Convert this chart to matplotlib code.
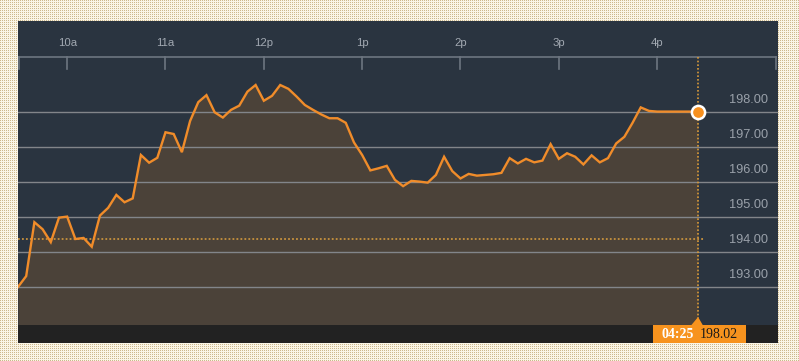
import numpy as np
import matplotlib
matplotlib.use("Agg")
import matplotlib.pyplot as plt
from matplotlib.patches import Rectangle, Polygon

# price every 5 minutes starting 9:30
prices = [193.01, 193.32, 194.86, 194.66, 194.29, 194.99, 195.02, 194.38, 194.41, 194.16,
          195.05, 195.27, 195.64, 195.43, 195.54, 196.78, 196.56, 196.70, 197.43, 197.38,
          196.86, 197.75, 198.29, 198.49, 198.00, 197.85, 198.07, 198.19, 198.59, 198.78,
          198.33, 198.47, 198.78, 198.67, 198.45, 198.21, 198.07, 197.94, 197.83, 197.83,
          197.70, 197.14, 196.78, 196.34, 196.40, 196.47, 196.07, 195.89, 196.04, 196.02,
          195.99, 196.21, 196.73, 196.32, 196.11, 196.24, 196.19, 196.21, 196.23, 196.27,
          196.69, 196.54, 196.67, 196.57, 196.62, 197.09, 196.67, 196.83, 196.73, 196.51,
          196.77, 196.57, 196.69, 197.11, 197.30, 197.70, 198.14, 198.04, 198.02, 198.02,
          198.02, 198.02, 198.02, 198.02]
hour_ticks = [30, 90, 150, 210, 270, 330, 390]   # minutes after 9:30
hour_labels = ["10a", "11a", "12p", "1p", "2p", "3p", "4p"]
y_ticks = [193, 194, 195, 196, 197, 198]
prev_close = 194.38
last_price = 198.02
last_time = "04:25"

W, H = 799, 361
fig = plt.figure(figsize=(W / 100, H / 100), dpi=100)

# dotted paper background
bg = np.ones((H, W, 3))
bg[:, :] = np.array([250, 245, 230]) / 255
bg[::2, ::2] = np.array([205, 184, 140]) / 255
fig.figimage(bg, 0, 0, zorder=-5)

# panel pixels
px0, px1, py0, py1 = 18, 778, 21, 343
ax = fig.add_axes([px0 / W, (H - py1) / H, (px1 - px0) / W, (py1 - py0) / H])
ax.set_zorder(2)
ax.set_facecolor("#2a3440")
for s in ax.spines.values():
    s.set_visible(False)
ax.set_xticks([])
ax.set_yticks([])

# pixel <-> data scales
ppm = 98.33 / 60          # px per minute
ppu = 35.0                # px per price unit
y198 = 112.3
def vy(p):                # pixel row -> price
    return 198 - (p - y198) / ppu
def vx(p):                # pixel col -> minutes
    return (p - px0) / ppm

ax.set_xlim(0, vx(px1))
ax.set_ylim(vy(py1), vy(py0))

t = np.arange(len(prices)) * 5
base = vy(325)
ax.fill_between(t, prices, base, color="#4b4239", zorder=1, lw=0)

for yv in y_ticks:
    ax.axhline(yv, color="#82858a", lw=1.0, zorder=2)
    ax.text(vx(768), yv + 12 / ppu, f"{yv:.2f}", ha="right", va="center",
            color="#9aa1aa", fontsize=9.2, family="Liberation Sans", zorder=5)

ax.plot(t, prices, color="#f08c2a", lw=1.7, zorder=4, solid_joinstyle="miter")

# previous close
ax.plot([0, vx(705)], [prev_close, prev_close], color="#c8923e", lw=1.3,
        ls=(0, (1, 1.2)), zorder=3)

# bottom strip
ax.axhspan(vy(py1), base, color="#222222", zorder=3, lw=0)

# top time axis
ytop = vy(57)
ax.plot([0, vx(776)], [ytop, ytop], color="#6d7580", lw=1.2, zorder=3)
for tx, lab in zip(hour_ticks, hour_labels):
    ax.plot([tx, tx], [ytop, vy(69)], color="#6d7580", lw=1.2, zorder=3)
    ax.text(tx, vy(43), lab, ha="center", va="center", color="#a2a9b2",
            fontsize=8.2, family="Liberation Sans")
for ex in [vx(18.5), vx(776)]:
    ax.plot([ex, ex], [ytop, vy(69)], color="#6d7580", lw=1.2, zorder=3)

# current marker
tl = t[-1]
ax.plot([tl, tl], [ytop, vy(318)], color="#d99a3a", lw=1.2, ls=(0, (1, 1.2)), zorder=3)
ax.plot(tl, last_price, "o", ms=9.5, mfc="#f7901e", mec="white", mew=1.8, zorder=6)

# label box
ax.add_patch(Rectangle((vx(653), vy(343)), vx(746) - vx(653), vy(325) - vy(343),
                       color="#f7931e", zorder=6, lw=0))
ax.add_patch(Polygon([[vx(691), vy(325.5)], [tl, vy(317)], [vx(703), vy(325.5)]],
                     closed=True, color="#f7931e", zorder=6, lw=0))
ax.text(vx(677.5), vy(335), last_time, ha="center", va="center", color="white",
        fontsize=10, family="Liberation Serif", fontweight="bold", zorder=7)
ax.text(vx(719), vy(335), f"{last_price:.2f}", ha="center", va="center", color="#1a1a1a",
        fontsize=10, family="Liberation Serif", zorder=7)

fig.savefig("out.png", dpi=100)
